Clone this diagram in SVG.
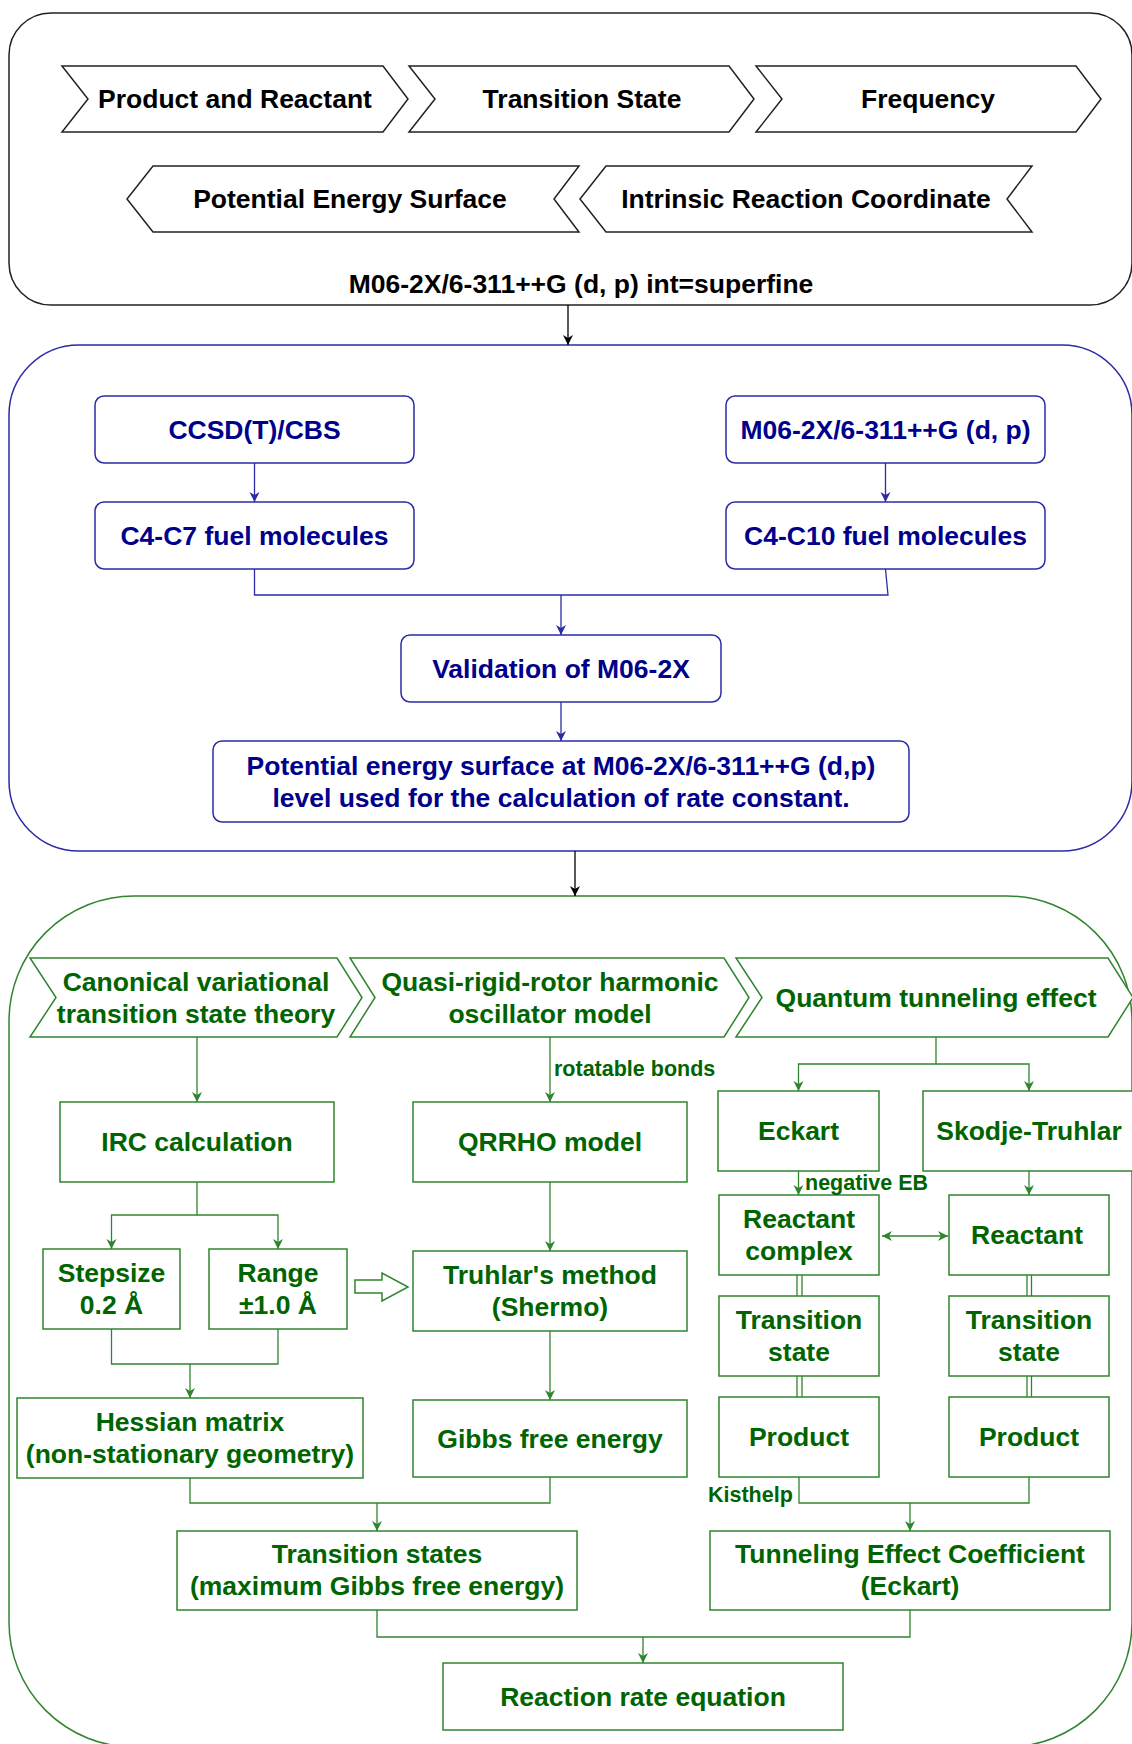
<svg xmlns="http://www.w3.org/2000/svg" width="1132" height="1744" viewBox="0 0 1132 1744">
  <defs>
    <marker id="arrK" markerUnits="userSpaceOnUse" markerWidth="12" markerHeight="12" refX="10" refY="5" orient="auto">
      <path d="M0,0 L10,5 L0,10 L3,5 Z" fill="#000"/>
    </marker>
    <marker id="arrB" markerUnits="userSpaceOnUse" markerWidth="12" markerHeight="12" refX="10" refY="5" orient="auto">
      <path d="M0,0 L10,5 L0,10 L3,5 Z" fill="#2b2ba6"/>
    </marker>
    <marker id="arrG" markerUnits="userSpaceOnUse" markerWidth="12" markerHeight="12" refX="10" refY="5" orient="auto">
      <path d="M0,0 L10,5 L0,10 L3,5 Z" fill="#2f852f"/>
    </marker>
    <marker id="arrGs" markerUnits="userSpaceOnUse" markerWidth="12" markerHeight="12" refX="0" refY="5" orient="auto">
      <path d="M10,0 L0,5 L10,10 L7,5 Z" fill="#2f852f"/>
    </marker>
  </defs>
  <style>
    text { font-family: "Liberation Sans", Arial, sans-serif; font-weight: bold; font-size: 26.5px; text-anchor: middle; }
    .k { fill: #000; }
    .b { fill: #00008b; }
    .g { fill: #006400; }
    .lbl { font-size: 21.5px; text-anchor: start; }
    .shapeK { fill: #fff; stroke: #222; stroke-width: 1.5; }
    .shapeB { fill: #fff; stroke: #2b2ba6; stroke-width: 1.5; }
    .shapeG { fill: #fff; stroke: #2f852f; stroke-width: 1.5; }
    .lk { fill: none; stroke: #000; stroke-width: 1.3; }
    .lb { fill: none; stroke: #2b2ba6; stroke-width: 1.3; }
    .lg { fill: none; stroke: #2f852f; stroke-width: 1.3; }
  </style>

  <rect width="1132" height="1744" fill="#fff"/>

  <!-- Stage 1: workflow of the DFT steps -->
  <g id="stage1">
    <rect class="shapeK" x="9" y="13" width="1123" height="292" rx="42" ry="42"/>
    <text class="k" x="581" y="293">M06-2X/6-311++G (d, p) int=superfine</text>
  </g>
  <g id="step-product-reactant">
    <polygon class="shapeK" points="62,66 383,66 408,99 383,132 62,132 88,99"/>
    <text class="k" x="235" y="108">Product and Reactant</text>
  </g>
  <g id="step-transition-state">
    <polygon class="shapeK" points="409,66 729,66 754,99 729,132 409,132 435,99"/>
    <text class="k" x="582" y="108">Transition State</text>
  </g>
  <g id="step-frequency">
    <polygon class="shapeK" points="756,66 1076,66 1101,99 1076,132 756,132 782,99"/>
    <text class="k" x="928" y="108">Frequency</text>
  </g>
  <g id="step-pes">
    <polygon class="shapeK" points="153,166 579,166 554,199 579,232 153,232 127,199"/>
    <text class="k" x="350" y="208">Potential Energy Surface</text>
  </g>
  <g id="step-irc">
    <polygon class="shapeK" points="606,166 1032,166 1007,199 1032,232 606,232 580,199"/>
    <text class="k" x="806" y="208">Intrinsic Reaction Coordinate</text>
  </g>

  <!-- Stage 2: method validation -->
  <g id="stage2">
    <rect class="shapeB" x="9" y="345" width="1123" height="506" rx="70" ry="70"/>
  </g>
  <g id="ccsd">
    <rect class="shapeB" x="95" y="396" width="319" height="67" rx="9"/>
    <text class="b" x="254.5" y="439">CCSD(T)/CBS</text>
  </g>
  <g id="m062x">
    <rect class="shapeB" x="726" y="396" width="319" height="67" rx="9"/>
    <text class="b" x="885.5" y="439">M06-2X/6-311++G (d, p)</text>
  </g>
  <g id="c4c7">
    <rect class="shapeB" x="95" y="502" width="319" height="67" rx="9"/>
    <text class="b" x="254.5" y="545">C4-C7 fuel molecules</text>
  </g>
  <g id="c4c10">
    <rect class="shapeB" x="726" y="502" width="319" height="67" rx="9"/>
    <text class="b" x="885.5" y="545">C4-C10 fuel molecules</text>
  </g>
  <g id="validation">
    <rect class="shapeB" x="401" y="635" width="320" height="67" rx="9"/>
    <text class="b" x="561" y="678">Validation of M06-2X</text>
  </g>
  <g id="pes-level">
    <rect class="shapeB" x="213" y="741" width="696" height="81" rx="9"/>
    <text class="b" x="561" y="775">Potential energy surface at M06-2X/6-311++G (d,p)</text>
    <text class="b" x="561" y="807">level used for the calculation of rate constant.</text>
  </g>

  <!-- Stage 3: rate constant calculation -->
  <g id="stage3">
    <rect class="shapeG" x="9" y="896" width="1123" height="851" rx="125" ry="125"/>
  </g>
  <g id="cvtst">
    <polygon class="shapeG" points="30,958 337,958 362,997.5 337,1037 30,1037 56,997.5"/>
    <text class="g" x="196" y="991">Canonical variational</text>
    <text class="g" x="196" y="1023">transition state theory</text>
  </g>
  <g id="qrrho-theory">
    <polygon class="shapeG" points="350,958 724,958 749,997.5 724,1037 350,1037 375,997.5"/>
    <text class="g" x="550" y="991">Quasi-rigid-rotor harmonic</text>
    <text class="g" x="550" y="1023">oscillator model</text>
  </g>
  <g id="tunneling">
    <polygon class="shapeG" points="736,958 1108,958 1133,997.5 1108,1037 736,1037 762,997.5"/>
    <text class="g" x="936" y="1007">Quantum tunneling effect</text>
  </g>
  <g id="irc-calc">
    <rect class="shapeG" x="60" y="1102" width="274" height="80"/>
    <text class="g" x="197" y="1151">IRC calculation</text>
  </g>
  <g id="qrrho-model">
    <rect class="shapeG" x="413" y="1102" width="274" height="80"/>
    <text class="g" x="550" y="1151">QRRHO model</text>
  </g>
  <g id="eckart">
    <rect class="shapeG" x="718" y="1091" width="161" height="80"/>
    <text class="g" x="798.5" y="1140">Eckart</text>
  </g>
  <g id="skodje">
    <rect class="shapeG" x="923" y="1091" width="212" height="80"/>
    <text class="g" x="1029" y="1140">Skodje-Truhlar</text>
  </g>
  <g id="stepsize">
    <rect class="shapeG" x="43" y="1249" width="137" height="80"/>
    <text class="g" x="111.5" y="1282">Stepsize</text>
    <text class="g" x="111.5" y="1314">0.2 Å</text>
  </g>
  <g id="range">
    <rect class="shapeG" x="209" y="1249" width="138" height="80"/>
    <text class="g" x="278" y="1282">Range</text>
    <text class="g" x="278" y="1314">±1.0 Å</text>
  </g>
  <g id="truhlar">
    <rect class="shapeG" x="413" y="1251" width="274" height="80"/>
    <text class="g" x="550" y="1284">Truhlar's method</text>
    <text class="g" x="550" y="1316">(Shermo)</text>
  </g>
  <g id="reactant-complex">
    <rect class="shapeG" x="719" y="1195" width="160" height="80"/>
    <text class="g" x="799" y="1228">Reactant</text>
    <text class="g" x="799" y="1260">complex</text>
  </g>
  <g id="reactant">
    <rect class="shapeG" x="949" y="1195" width="160" height="80"/>
    <text class="g" x="1027" y="1244">Reactant</text>
  </g>
  <g id="ts-left">
    <rect class="shapeG" x="719" y="1296" width="160" height="80"/>
    <text class="g" x="799" y="1329">Transition</text>
    <text class="g" x="799" y="1361">state</text>
  </g>
  <g id="ts-right">
    <rect class="shapeG" x="949" y="1296" width="160" height="80"/>
    <text class="g" x="1029" y="1329">Transition</text>
    <text class="g" x="1029" y="1361">state</text>
  </g>
  <g id="product-left">
    <rect class="shapeG" x="719" y="1397" width="160" height="80"/>
    <text class="g" x="799" y="1446">Product</text>
  </g>
  <g id="product-right">
    <rect class="shapeG" x="949" y="1397" width="160" height="80"/>
    <text class="g" x="1029" y="1446">Product</text>
  </g>
  <g id="hessian">
    <rect class="shapeG" x="17" y="1398" width="346" height="80"/>
    <text class="g" x="190" y="1431">Hessian matrix</text>
    <text class="g" x="190" y="1463">(non-stationary geometry)</text>
  </g>
  <g id="gibbs">
    <rect class="shapeG" x="413" y="1400" width="274" height="77"/>
    <text class="g" x="550" y="1448">Gibbs free energy</text>
  </g>
  <g id="transition-states">
    <rect class="shapeG" x="177" y="1531" width="400" height="79"/>
    <text class="g" x="377" y="1563">Transition states</text>
    <text class="g" x="377" y="1595">(maximum Gibbs free energy)</text>
  </g>
  <g id="tunneling-coefficient">
    <rect class="shapeG" x="710" y="1531" width="400" height="79"/>
    <text class="g" x="910" y="1563">Tunneling Effect Coefficient</text>
    <text class="g" x="910" y="1595">(Eckart)</text>
  </g>
  <g id="rate-equation">
    <rect class="shapeG" x="443" y="1663" width="400" height="67"/>
    <text class="g" x="643" y="1706">Reaction rate equation</text>
  </g>

  <!-- Connectors -->
  <g id="connectors">
    <path class="lk" d="M568,305 V345" marker-end="url(#arrK)"/>
    <path class="lk" d="M575,851 V896" marker-end="url(#arrK)"/>

    <path class="lb" d="M254.5,463 V502" marker-end="url(#arrB)"/>
    <path class="lb" d="M885.5,463 V502" marker-end="url(#arrB)"/>
    <path class="lb" d="M254.5,569 V595 H888 L885.5,569"/>
    <path class="lb" d="M561,595 V635" marker-end="url(#arrB)"/>
    <path class="lb" d="M561,702 V741" marker-end="url(#arrB)"/>

    <path class="lg" d="M197,1037 V1102" marker-end="url(#arrG)"/>
    <path class="lg" d="M550,1037 V1102" marker-end="url(#arrG)"/>
    <text class="g lbl" x="554" y="1076">rotatable bonds</text>
    <path class="lg" d="M936,1037 V1064 H798.5 V1091" marker-end="url(#arrG)"/>
    <path class="lg" d="M936,1064 H1029 V1091" marker-end="url(#arrG)"/>
    <path class="lg" d="M798.5,1171 V1195" marker-end="url(#arrG)"/>
    <text class="g lbl" x="805" y="1190">negative EB</text>
    <path class="lg" d="M1029,1171 V1195" marker-end="url(#arrG)"/>
    <path class="lg" d="M882,1236 H948" marker-start="url(#arrGs)" marker-end="url(#arrG)"/>

    <!-- double links between reaction stages -->
    <path class="lg" d="M797,1275 V1296 M802,1275 V1296 M797,1376 V1397 M802,1376 V1397"/>
    <path class="lg" d="M1027,1275 V1296 M1031.5,1275 V1296 M1027,1376 V1397 M1031.5,1376 V1397"/>

    <path class="lg" d="M197,1182 V1215 H111.5 V1249" marker-end="url(#arrG)"/>
    <path class="lg" d="M197,1215 H278 V1249" marker-end="url(#arrG)"/>
    <polygon class="shapeG" points="355,1280 382,1280 382,1273 408,1287 382,1301 382,1293 355,1293"/>
    <path class="lg" d="M550,1182 V1251" marker-end="url(#arrG)"/>
    <path class="lg" d="M111.5,1329 V1364 H278 V1329"/>
    <path class="lg" d="M190,1364 V1398" marker-end="url(#arrG)"/>
    <path class="lg" d="M550,1331 V1400" marker-end="url(#arrG)"/>
    <path class="lg" d="M190,1478 V1503 H550 V1477"/>
    <path class="lg" d="M377,1503 V1531" marker-end="url(#arrG)"/>
    <path class="lg" d="M799,1477 V1503 H1029 V1477"/>
    <text class="g lbl" x="708" y="1502">Kisthelp</text>
    <path class="lg" d="M910,1503 V1531" marker-end="url(#arrG)"/>
    <path class="lg" d="M377,1610 V1637 H910 V1610"/>
    <path class="lg" d="M643,1637 V1663" marker-end="url(#arrG)"/>
  </g>
</svg>
